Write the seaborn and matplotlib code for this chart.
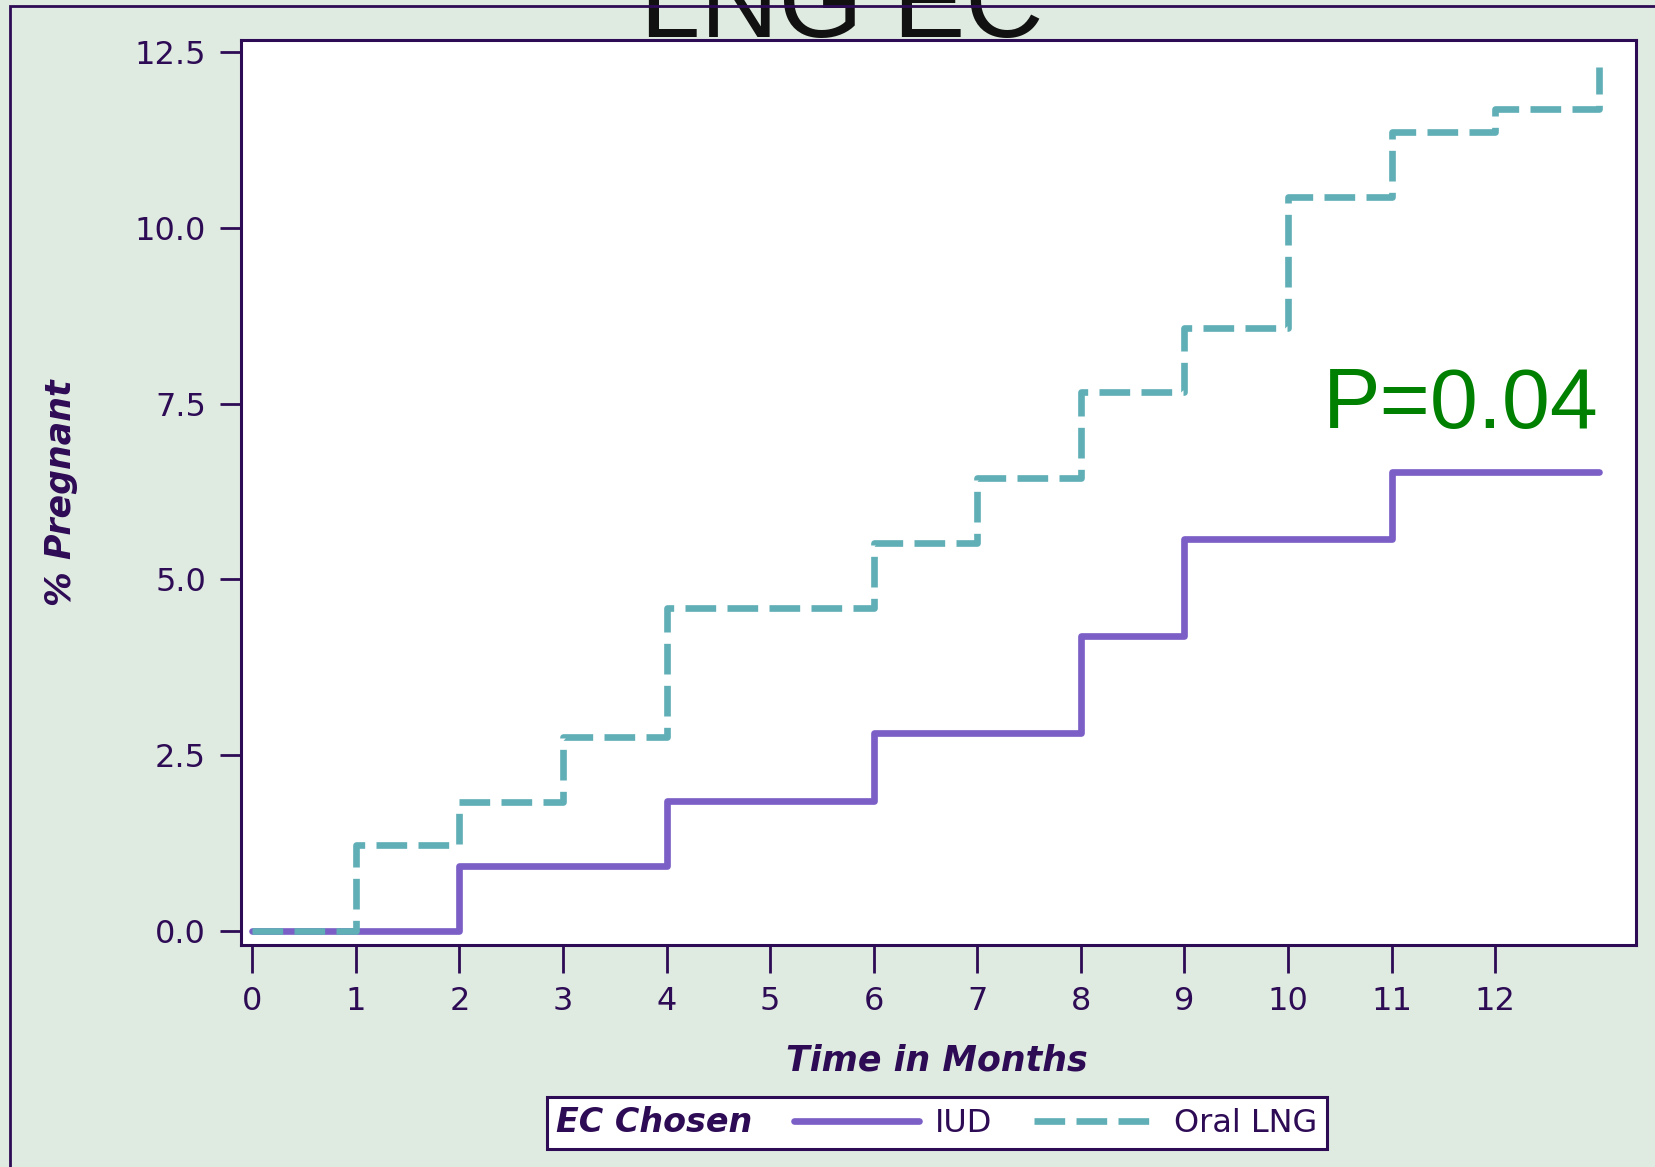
import matplotlib
matplotlib.use("Agg")
import matplotlib.pyplot as plt
import seaborn as sns
import pandas as pd
from matplotlib.lines import Line2D
from matplotlib.patches import Rectangle

# ---- data ----
iud_months = [0, 2, 4, 6, 8, 9, 11, 13]
iud_pct = [0.0, 0.93, 1.85, 2.81, 4.19, 5.58, 6.53, 6.53]
lng_months = [0, 1, 2, 3, 4, 6, 7, 8, 9, 10, 11, 12, 13, 13]
lng_pct = [0.0, 1.23, 1.83, 2.76, 4.59, 5.52, 6.44, 7.67, 8.58, 10.44, 11.36, 11.69, 11.69, 12.29]
x_ticks = list(range(0, 13))
y_ticks = [0.0, 2.5, 5.0, 7.5, 10.0, 12.5]
groups = ["IUD", "Oral LNG"]

df = pd.DataFrame({
    "Time": iud_months + lng_months,
    "Pct": iud_pct + lng_pct,
    "EC": ["IUD"] * len(iud_months) + ["Oral LNG"] * len(lng_months),
})

PURPLE_DARK = "#2E0B55"
BG = "#DFEBE1"
C_IUD = "#7B5EC6"
C_LNG = "#60AFB6"
LW = 4.8
DASH = (4.6, 1.7)

sns.set_style("white")
plt.rcParams["font.family"] = ["DejaVu Sans"]

fig = plt.figure(figsize=(16.55, 11.67), dpi=100)
fig.patch.set_facecolor(BG)
ax = fig.add_axes([240.7 / 1655, 1 - 944.7 / 1167, (1636 - 240.7) / 1655, (944.7 - 40.1) / 1167])
ax.set_facecolor("white")

sns.lineplot(data=df, x="Time", y="Pct", hue="EC", style="EC",
             hue_order=groups, style_order=groups,
             palette={"IUD": C_IUD, "Oral LNG": C_LNG},
             dashes={"IUD": "", "Oral LNG": DASH},
             estimator=None, drawstyle="steps-post", linewidth=LW,
             legend=False, ax=ax)

ax.set_xlim(-0.112, 13.36)
ax.set_ylim(-0.195, 12.67)
ax.set_xticks(x_ticks)
ax.set_xticklabels([str(t) for t in x_ticks])
ax.set_yticks(y_ticks)
ax.set_yticklabels([f"{v:.1f}" for v in y_ticks])

for s in ax.spines.values():
    s.set_color(PURPLE_DARK)
    s.set_linewidth(2.2)
ax.tick_params(axis="both", which="major", direction="out", width=2,
               bottom=True, left=True, top=False, right=False,
               color=PURPLE_DARK, labelcolor=PURPLE_DARK, labelsize=23)
ax.tick_params(axis="y", length=15, pad=10)
ax.tick_params(axis="x", length=20, pad=10)

ax.set_xlabel("Time in Months", fontsize=25, fontweight="bold", fontstyle="italic",
              color=PURPLE_DARK, va="center")
ax.xaxis.set_label_coords(0.499, -0.128)
ax.set_ylabel("% Pregnant", fontsize=25, fontweight="bold", fontstyle="italic",
              color=PURPLE_DARK, va="center")
ax.yaxis.set_label_coords(-0.1288, 0.5)

ax.text(13.0, 7.16, "P=0.04", color="#008000", fontsize=62, ha="right", va="baseline",
        family=["Liberation Sans", "DejaVu Sans"])

fig.text(0.5088, 1 - 37 / 1167, "LNG EC", fontsize=78, ha="center", va="baseline",
         color="#111111", family=["Liberation Sans", "DejaVu Sans"])

# legend
handles = [Line2D([], [], color=C_IUD, lw=LW),
           Line2D([], [], color=C_LNG, lw=LW, dashes=DASH)]
leg = fig.legend(handles, groups, loc="center", bbox_to_anchor=(937 / 1655, 1 - 1123 / 1167),
                 ncol=2, title="EC Chosen", frameon=True, fancybox=False,
                 fontsize=23, handlelength=3.9, handletextpad=0.5, columnspacing=0.9,
                 borderpad=0.3, borderaxespad=0)
leg.get_frame().set_edgecolor(PURPLE_DARK)
leg.get_frame().set_linewidth(2.2)
leg.get_frame().set_facecolor("white")
leg.get_frame().set_alpha(1)
for t in leg.get_texts():
    t.set_color(PURPLE_DARK)
tt = leg.get_title()
tt.set_fontsize(24)
tt.set_fontweight("bold")
tt.set_fontstyle("italic")
tt.set_color(PURPLE_DARK)
try:
    c = leg.get_children()[0]
    title_box = c.get_children()[0]
    hpack = c.get_children()[1]
    c._children = [hpack]
    hpack._children = [title_box] + hpack.get_children()
    hpack.sep = 30
except Exception:
    pass

# figure border (cropped look)
fig.patches.append(Rectangle((10 / 1655, -0.2), 1.5, 1.2 - 6 / 1167, transform=fig.transFigure,
                             fill=False, edgecolor=PURPLE_DARK, linewidth=2, zorder=10))

fig.savefig("out.png", dpi=100, facecolor=BG)
